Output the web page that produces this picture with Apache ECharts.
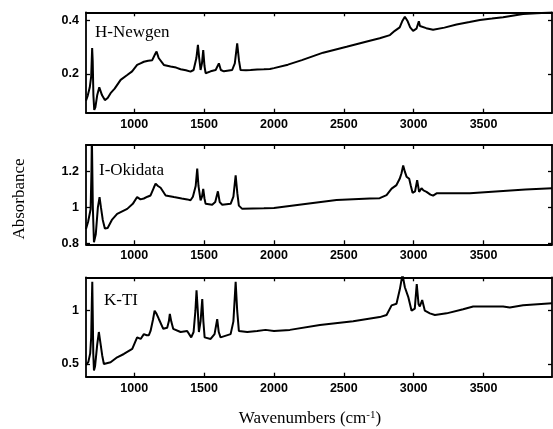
<!DOCTYPE html>
<html><head><meta charset="utf-8">
<script src="https://cdn.jsdelivr.net/npm/echarts@6/dist/echarts.min.js"></script>
<style>html,body{margin:0;padding:0;background:#fff}#c{width:553px;height:429px}</style>
</head><body><div id="c"></div>
<script>
// ---- data ----
var panelNames = ['H-Newgen', 'I-Okidata', 'K-TI'];
var xTicks = [1000, 1500, 2000, 2500, 3000, 3500];
var yTicksH = [0.2, 0.4];
var yTicksI = [0.8, 1, 1.2];
var yTicksK = [0.5, 1];

var wnH = [655,668,682,692,699,703,708,714,722,735,750,757,770,790,810,831,860,903,950,985,1021,1045,1069,1100,1129,1150,1160,1175,1212,1260,1300,1332,1370,1403,1425,1445,1456,1465,1475,1485,1494,1503,1511,1547,1583,1606,1620,1642,1701,1720,1737,1750,1761,1800,1833,1880,1928,1971,2000,2100,2200,2352,2520,2686,2757,2830,2865,2900,2920,2937,2955,2975,2996,3020,3037,3045,3056,3090,3139,3220,3307,3400,3474,3560,3640,3783,3880,3990];
var absH = [0.10,0.12,0.15,0.19,0.297,0.25,0.12,0.065,0.075,0.12,0.15,0.152,0.12,0.102,0.11,0.128,0.145,0.178,0.196,0.21,0.234,0.24,0.246,0.25,0.252,0.275,0.284,0.26,0.234,0.228,0.224,0.218,0.214,0.209,0.215,0.26,0.309,0.26,0.215,0.24,0.29,0.23,0.203,0.21,0.215,0.24,0.215,0.21,0.215,0.24,0.315,0.25,0.215,0.214,0.215,0.217,0.218,0.219,0.222,0.235,0.252,0.28,0.302,0.325,0.334,0.346,0.362,0.375,0.40,0.415,0.40,0.375,0.362,0.37,0.398,0.38,0.377,0.372,0.366,0.374,0.386,0.395,0.403,0.408,0.413,0.425,0.428,0.431];

var wnI = [655,670,688,694,697,700,704,712,725,740,752,762,775,790,810,840,878,950,990,1021,1045,1069,1095,1117,1140,1153,1170,1189,1225,1284,1340,1380,1403,1420,1440,1451,1460,1475,1485,1494,1503,1511,1558,1580,1599,1612,1630,1690,1710,1726,1738,1749,1773,1850,1928,2000,2209,2448,2686,2757,2806,2842,2877,2900,2913,2925,2937,2949,2968,2980,2992,3010,3025,3039,3056,3070,3092,3120,3139,3164,3300,3402,3640,3800,3990];
var absI = [0.88,0.92,0.99,1.2,1.4,1.4,1.0,0.805,0.85,1.0,1.058,1.0,0.93,0.882,0.885,0.93,0.964,0.992,1.02,1.058,1.045,1.05,1.06,1.067,1.11,1.133,1.12,1.11,1.067,1.058,1.05,1.045,1.04,1.06,1.12,1.217,1.12,1.04,1.06,1.104,1.05,1.02,1.015,1.03,1.09,1.03,1.015,1.02,1.06,1.18,1.08,1.01,0.992,0.994,0.995,0.997,1.018,1.041,1.05,1.052,1.069,1.105,1.125,1.16,1.191,1.235,1.2,1.172,1.16,1.12,1.082,1.09,1.153,1.087,1.107,1.095,1.087,1.072,1.066,1.079,1.08,1.08,1.092,1.1,1.107];

var wnK = [655,672,685,692,697,700,703,707,712,720,735,747,758,771,783,795,831,878,926,986,1005,1021,1046,1069,1090,1105,1117,1135,1146,1160,1177,1208,1236,1248,1255,1265,1279,1332,1379,1408,1425,1438,1446,1455,1463,1475,1487,1495,1504,1547,1575,1594,1605,1618,1690,1710,1726,1737,1749,1809,1880,1940,2000,2114,2329,2567,2757,2806,2842,2877,2901,2920,2937,2961,2985,3008,3022,3035,3044,3061,3080,3116,3152,3236,3354,3426,3521,3640,3688,3783,3990];
var absK = [0.49,0.52,0.60,0.75,1.1,1.27,1.0,0.6,0.44,0.48,0.68,0.80,0.70,0.58,0.50,0.484,0.516,0.563,0.594,0.641,0.70,0.75,0.735,0.78,0.77,0.77,0.81,0.92,1.0,0.97,0.92,0.83,0.84,0.90,0.97,0.90,0.83,0.80,0.81,0.75,0.80,1.0,1.19,1.0,0.80,0.90,1.11,0.9,0.75,0.735,0.78,0.92,0.80,0.75,0.78,0.90,1.27,1.0,0.81,0.80,0.81,0.82,0.81,0.82,0.866,0.90,0.94,0.96,1.05,1.065,1.2,1.34,1.22,1.13,1.0,1.02,1.25,1.06,1.04,1.1,1.0,0.975,0.96,0.975,1.013,1.04,1.04,1.04,1.03,1.05,1.07];

// ---- layout ----
var xMin = 655, xMax = 3990;
var grids = [
  {left: 86, width: 466, top: 12.3, height: 100.4},
  {left: 86, width: 466, top: 145, height: 99.3},
  {left: 86, width: 466, top: 277.3, height: 99.4}
];
var yRanges = [[0.0548, 0.4315], [0.794, 1.349], [0.381, 1.313]];
var yTicksAll = [yTicksH, yTicksI, yTicksK];
var wnAll = [wnH, wnI, wnK];
var absAll = [absH, absI, absK];

var lineCol = '#000';
var labelFont = {color: '#000', fontSize: 12.5, fontWeight: 'bold', fontFamily: 'Liberation Sans'};
var xAxes = [], yAxes = [], series = [];
for (var i = 0; i < 3; i++) {
  ['bottom', 'top'].forEach(function (pos) {
    xAxes.push({
      type: 'value', gridIndex: i, position: pos, min: xMin, max: xMax,
      axisLine: {show: true, onZero: false, lineStyle: {color: lineCol, width: 1.8}},
      axisTick: {show: true, inside: true, length: 4, customValues: xTicks, lineStyle: {color: lineCol, width: 1.3}},
      axisLabel: Object.assign({show: pos === 'bottom', customValues: xTicks, margin: 5,
        formatter: function (v) { return String(Math.round(v)); }}, labelFont),
      splitLine: {show: false}
    });
  });
  ['left', 'right'].forEach(function (pos) {
    yAxes.push({
      type: 'value', gridIndex: i, position: pos, min: yRanges[i][0], max: yRanges[i][1],
      axisLine: {show: true, onZero: false, lineStyle: {color: lineCol, width: 1.8}},
      axisTick: {show: true, inside: true, length: 4, customValues: yTicksAll[i], lineStyle: {color: lineCol, width: 1.3}},
      axisLabel: Object.assign({show: pos === 'left', customValues: yTicksAll[i], margin: 7,
        formatter: function (v) { return String(+(+v).toFixed(2)); }}, labelFont),
      splitLine: {show: false}
    });
  });
  var d = wnAll[i].map(function (w, k) { return [w, absAll[i][k]]; });
  series.push({
    type: 'line', xAxisIndex: i * 2, yAxisIndex: i * 2, data: d, showSymbol: false, symbol: 'none',
    clip: true, animation: false, lineStyle: {color: lineCol, width: 2}
  });
}

var labelPos = [[95, 34.3], [99, 171.7], [104, 301.7]];
var graphics = panelNames.map(function (n, i) {
  return {type: 'text', left: labelPos[i][0], top: labelPos[i][1] - 10,
    style: {text: n, font: '17px "Liberation Serif"', fill: '#000'}};
});
graphics.push({type: 'text', x: 11, y: 199, rotation: Math.PI / 2,
  style: {text: 'Absorbance', font: '17px "Liberation Serif"', fill: '#000', align: 'center', verticalAlign: 'top'}});
graphics.push({type: 'text', x: 310, y: 410,
  style: {text: '{a|Wavenumbers (cm}{s|-1}{a|)}', align: 'center', verticalAlign: 'top',
    rich: {a: {font: '17px "Liberation Serif"', fill: '#000'}, s: {font: '11px "Liberation Serif"', fill: '#000', verticalAlign: 'top', padding: [0, 0, 6, 0]}}}});

var chart = echarts.init(document.getElementById('c'), null, {renderer: 'canvas'});
chart.setOption({
  animation: false,
  backgroundColor: '#fff',
  grid: grids,
  xAxis: xAxes,
  yAxis: yAxes,
  series: series,
  graphic: graphics
});
</script></body></html>
